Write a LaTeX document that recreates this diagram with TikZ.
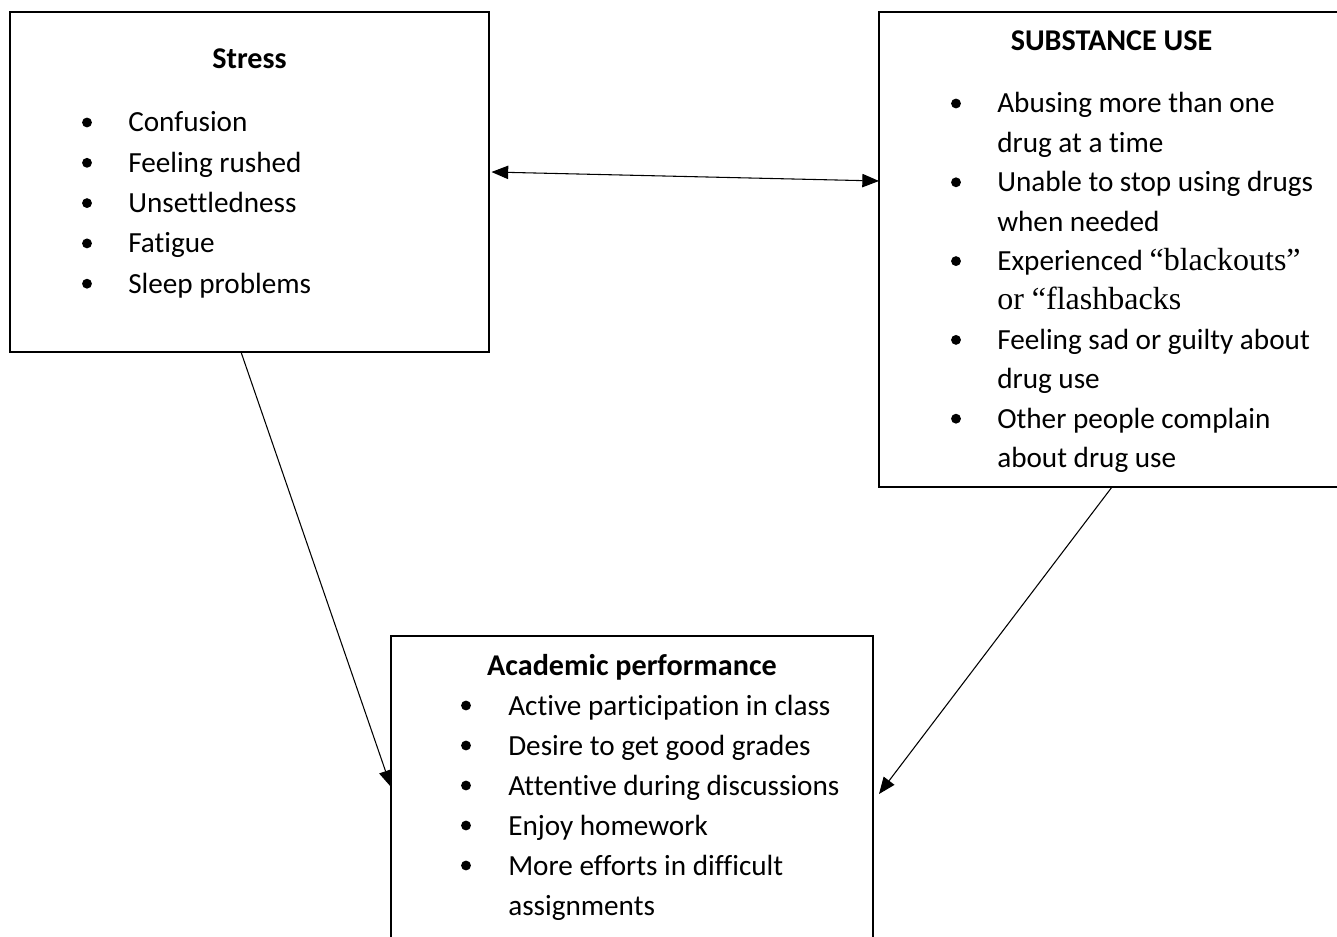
\documentclass[tikz,border=0pt]{standalone}
\usepackage{fontspec}
\setmainfont{Carlito}[Ligatures=NoCommon]
\newfontfamily\tms{Liberation Serif}
\usetikzlibrary{arrows.meta,calc,fit}
\begin{document}
\begin{tikzpicture}[x=0.75pt,y=-0.75pt,
  box/.style={draw=black,line width=1.8pt,inner sep=0pt,outer sep=0pt,fit=#1},
  txt/.style={anchor=base west,inner sep=0pt,font=\fontsize{21.9}{26}\selectfont},
  ttl/.style={anchor=base,inner sep=0pt,font=\fontsize{22.6}{26}\selectfont\bfseries},
  conn/.style={line width=0.8pt,-{Triangle[length=12.5pt,width=10pt]}},
  bconn/.style={line width=0.8pt,{Triangle[length=12.5pt,width=10pt]}-{Triangle[length=12.5pt,width=10pt]}},
  bul/.style={fill=black}]
\useasboundingbox[fill=white] (0,0) rectangle (1337,937);
% box corners
\coordinate (sA) at (10,12);   \coordinate (sB) at (489,352);
\coordinate (uA) at (879,12);  \coordinate (uB) at (1345,487);
\coordinate (aA) at (391,636); \coordinate (aB) at (873,950);
\node[box={(sA)(sB)}] (stress) {};
\node[box={(uA)(uB)}] (subst) {};
\node[box={(aA)(aB)}] (acad) {};
% Stress
\node[ttl] (stitle) at (249.5,69) {Stress};
\foreach \t [count=\i] in {Confusion,Feeling rushed,Unsettledness,Fatigue,Sleep problems}{
  \pgfmathsetmacro{\yy}{132+40.3*(\i-1)}
  \node[txt] (s\i) at (128,\yy) {\t};
  \fill[bul] (87,\yy-9.5) circle[radius=3.7pt];
}
% Substance use
\node[ttl] (utitle) at (1111.5,51) {SUBSTANCE USE};
\node[txt] (u1) at (997,113) {Abusing more than one};
\node[txt] (u2) at (997,152.4) {drug at a time};
\node[txt] (u3) at (997,191.8) {Unable to stop using drugs};
\node[txt] (u4) at (997,231.2) {when needed};
\node[txt] (u5) at (997,270.6) {Experienced {\tms\fontsize{24}{28}\selectfont “blackouts”}};
\node[txt] (u6) at (997,310) {{\tms\fontsize{24}{28}\selectfont or “flashbacks}};
\node[txt] (u7) at (997,349.4) {Feeling sad or guilty about};
\node[txt] (u8) at (997,388.8) {drug use};
\node[txt] (u9) at (997,428.2) {Other people complain};
\node[txt] (u10) at (997,467.6) {about drug use};
\foreach \yy in {113,191.8,270.6,349.4,428.2}{
  \fill[bul] (956,\yy-9.5) circle[radius=3.7pt];
}
% Academic performance
\node[ttl] (atitle) at (632,675) {Academic performance};
\node[txt] (a1) at (508,715) {Active participation in class};
\node[txt] (a2) at (508,755) {Desire to get good grades};
\node[txt] (a3) at (508,795) {Attentive during discussions};
\node[txt] (a4) at (508,835) {Enjoy homework};
\node[txt] (a5) at (508,875) {More efforts in difficult};
\node[txt] (a6) at (508,915) {assignments};
\foreach \yy in {715,755,795,835,875}{
  \fill[bul] (466,\yy-9.5) circle[radius=3.7pt];
}
% connectors
\draw[bconn] ($(stress.north east)+(2.5,160)$) -- ($(subst.north west)+(0,169)$);
\draw[conn] ($(stress.south)+(-8.5,0)$) -- ($(acad.north west)+(0,151)$);
\draw[conn] (subst.south) -- ($(acad.north east)+(6,158)$);
\end{tikzpicture}
\end{document}
